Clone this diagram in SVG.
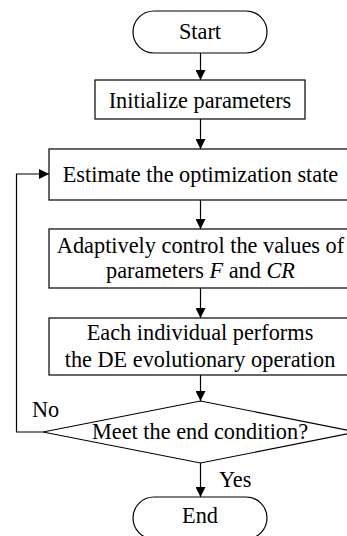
<svg xmlns="http://www.w3.org/2000/svg" width="347" height="536" viewBox="0 0 347 536">
<style>
.s{fill:#fff;stroke:#000;stroke-width:1.2}
.l{fill:none;stroke:#000;stroke-width:1.2}
.t{font-family:'Liberation Serif','Times New Roman',serif;font-size:22.3px;fill:#000}
.c{text-anchor:middle}
</style>
<defs>
<marker id="a" viewBox="0 0 10 10" refX="10" refY="5" markerWidth="10" markerHeight="10" markerUnits="userSpaceOnUse" orient="auto">
<path d="M0,0 L10,5 L0,10 z" fill="#000"/>
</marker>
</defs>
<rect width="347" height="536" fill="#fff"/>
<g font-family="Liberation Serif, Times New Roman, serif" font-size="22.3" fill="#000">
<g id="connectors">
<line class="l" x1="200.5" y1="53" x2="200.5" y2="80" marker-end="url(#a)"/>
<line class="l" x1="200.5" y1="119" x2="200.5" y2="149" marker-end="url(#a)"/>
<line class="l" x1="200.5" y1="200" x2="200.5" y2="229" marker-end="url(#a)"/>
<line class="l" x1="200.5" y1="288" x2="200.5" y2="318" marker-end="url(#a)"/>
<line class="l" x1="200.5" y1="375" x2="200.5" y2="401" marker-end="url(#a)"/>
<line class="l" x1="200.5" y1="463" x2="200.5" y2="497" marker-end="url(#a)"/>
<polyline class="l" points="43,432 16.5,432 16.5,174 49,174" marker-end="url(#a)"/>
<text class="t" x="32" y="417">No</text>
<text class="t" x="219" y="487">Yes</text>
</g>
<g id="start">
<rect class="s" x="133" y="11" width="134" height="42" rx="21" ry="21"/>
<text class="t c" x="200" y="39">Start</text>
</g>
<g id="init">
<rect class="s" x="95" y="80" width="210" height="39"/>
<text class="t c" x="200" y="108">Initialize parameters</text>
</g>
<g id="estimate">
<rect class="s" x="49" y="149" width="305" height="51"/>
<text class="t c" x="200.5" y="182">Estimate the optimization state</text>
</g>
<g id="adapt">
<rect class="s" x="49" y="229" width="305" height="59"/>
<text class="t c" x="200.5" y="253">Adaptively control the values of</text>
<text class="t c" x="200.5" y="278">parameters <tspan font-style="italic">F</tspan> and <tspan font-style="italic">CR</tspan></text>
</g>
<g id="each">
<rect class="s" x="49" y="318" width="305" height="57"/>
<text class="t c" x="200" y="340">Each individual performs</text>
<text class="t c" x="200" y="367">the DE evolutionary operation</text>
</g>
<g id="decision">
<polygon class="s" points="200.5,401 357,432 200.5,463 43,432"/>
<text class="t c" x="200" y="439">Meet the end condition?</text>
</g>
<g id="end">
<rect class="s" x="133" y="497" width="134" height="42" rx="21" ry="21"/>
<text class="t c" x="200" y="523">End</text>
</g>
</g>
</svg>
